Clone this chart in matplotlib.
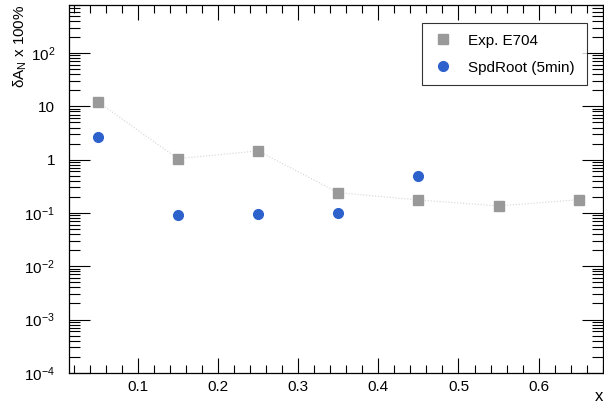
import matplotlib.pyplot as plt
from matplotlib.ticker import LogLocator, MultipleLocator, NullFormatter

plt.rcParams['font.family'] = ['Liberation Sans', 'DejaVu Sans']
plt.rcParams['mathtext.fontset'] = 'custom'
plt.rcParams['mathtext.rm'] = 'Liberation Sans'
plt.rcParams['mathtext.it'] = 'Liberation Sans:italic'

# E704 measurement
x_e704 = [0.05, 0.15, 0.25, 0.35, 0.45, 0.55, 0.65]
dan_e704 = [12.2, 1.04, 1.46, 0.24, 0.175, 0.135, 0.177]

# SpdRoot (5 min) estimate
x_spd = [0.05, 0.15, 0.25, 0.35, 0.45]
dan_spd = [2.65, 0.092, 0.096, 0.098, 0.49]

xticks = [0.1, 0.2, 0.3, 0.4, 0.5, 0.6]

fig = plt.figure(figsize=(6.04, 4.07), dpi=100)
ax = fig.add_axes([0.114, 0.084, 0.884, 0.904])

ax.plot(x_e704, dan_e704, color='#d4d4d4', lw=0.8, ls=':', zorder=1)
ax.plot(x_e704, dan_e704, ls='none', marker='s', ms=7, color='#999999',
        mec='#999999', label='Exp. E704', zorder=3)
ax.plot(x_spd, dan_spd, ls='none', marker='o', ms=7, color='#2d62cc',
        mec='#2d62cc', label='SpdRoot (5min)', zorder=3)

ax.set_yscale('log')
ax.set_xlim(0.014, 0.68)

ax.set_xticks(xticks)
ax.set_xticklabels([f'{t:.1f}' for t in xticks])
ax.xaxis.set_minor_locator(MultipleLocator(0.02))
ax.yaxis.set_minor_locator(LogLocator(base=10, subs=range(2, 10), numticks=20))
ax.yaxis.set_minor_formatter(NullFormatter())

ylabels = {1e-4: '$10^{-4}$', 1e-3: '$10^{-3}$', 1e-2: '$10^{-2}$',
           1e-1: '$10^{-1}$', 1: '1', 10: '10', 100: '$10^{2}$'}
ax.set_yticks(list(ylabels.keys()))
ax.set_yticklabels(list(ylabels.values()))
ax.set_ylim(1e-4, 800)

ax.tick_params(which='both', direction='in', top=True, right=True,
               labelsize=11, color='black', width=0.8)
ax.tick_params(axis='y', which='major', length=15, pad=10)
ax.tick_params(axis='y', which='minor', length=8)
ax.tick_params(axis='x', which='major', length=11, pad=5)
ax.tick_params(axis='x', which='minor', length=6)
for s in ax.spines.values():
    s.set_linewidth(0.9)

leg = ax.legend(loc='upper left', bbox_to_anchor=(0.661, 0.5, 0.309, 0.451),
                mode='expand', borderaxespad=0, fontsize=11,
                frameon=True, fancybox=False, edgecolor='black',
                borderpad=0.7, labelspacing=0.85, handletextpad=0.95,
                handlelength=1.35)
leg.get_frame().set_linewidth(0.8)

fig.text(0.034, 0.988, 'δA$_{\\mathrm{N}}$ x 100%', rotation=90,
         ha='center', va='top', fontsize=11)
fig.text(0.984, 0.022, 'x$_{\\mathrm{F}}$', ha='left', va='center', fontsize=12)

fig.savefig('out.png', dpi=100)
